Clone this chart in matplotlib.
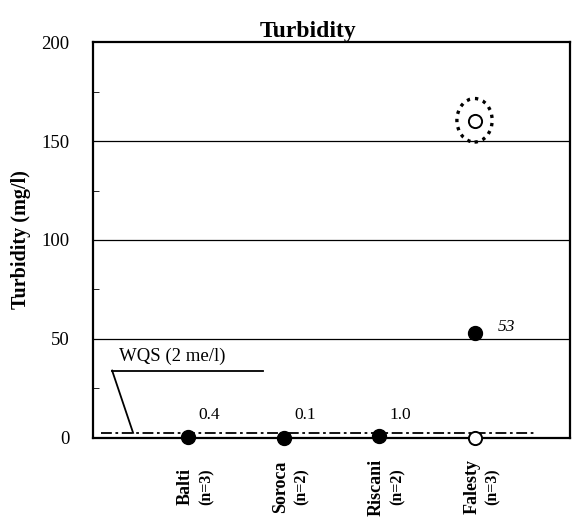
import matplotlib
matplotlib.use("Agg")
import matplotlib.pyplot as plt
from matplotlib.patches import Ellipse
from matplotlib.transforms import blended_transform_factory

plt.rcParams['font.family'] = ['Liberation Serif', 'DejaVu Serif']

# data
sites = ["Balti", "Soroca", "Riscani", "Falesty"]
n_samples = [3, 2, 2, 3]
filled_x = [1, 2, 3, 4]
filled_y = [0.4, 0.1, 1.0, 53]
filled_labels = ["0.4", "0.1", "1.0", "53"]
open_x = [4, 4]
open_y = [0, 160]
wqs = 2

fig = plt.figure(figsize=(5.78, 5.2), dpi=100)
ax = fig.add_axes([0.161, 0.158, 0.825, 0.761])

ax.set_xlim(0, 5)
ax.set_ylim(0, 200)
ax.set_yticks([0, 50, 100, 150, 200])
ax.set_yticks([25, 75, 125, 175], minor=True)
for y in [50, 100, 150]:
    ax.axhline(y, color="black", lw=0.9, zorder=1)

# WQS line
ax.plot([0.08, 4.65], [wqs + 0.5, wqs + 0.5], color="black", lw=1.3,
        linestyle=(0, (6, 2, 1.5, 2)), zorder=2)

ax.scatter(filled_x, filled_y, s=100, color="black", zorder=4, clip_on=False)
ax.scatter(open_x, open_y, s=90, facecolor="white", edgecolor="black",
           lw=1.4, zorder=4, clip_on=False)
ax.add_patch(Ellipse((4, 160.5), 0.37, 22, fill=False, lw=2.4,
                     linestyle=(0, (1, 1.5)), zorder=3))

for x, y, t in zip(filled_x, filled_y, filled_labels):
    if y > 10:
        ax.text(x + 0.24, y - 1, t, fontsize=12.5, style="italic",
                ha="left", va="bottom")
    else:
        ax.text(x + 0.22, 7.5, t, fontsize=12.5, ha="center", va="bottom")

# WQS annotation with leader line
ax.plot([0.2, 1.78], [34, 34], color="black", lw=1.3)
ax.plot([0.2, 0.42], [34, 2.5], color="black", lw=1.3)
ax.text(0.27, 37, "WQS (2 me/l)", fontsize=13.5, ha="left", va="bottom")

# category labels, rotated, name and sample count side by side
ax.set_xticks(filled_x)
ax.set_xticklabels([])
ax.tick_params(axis="x", length=0)
trans = blended_transform_factory(ax.transData, ax.transAxes)
for x, s, n in zip(filled_x, sites, n_samples):
    ax.text(x - 0.03, -0.124, s, transform=trans, rotation=90,
            fontsize=13, fontweight="bold", ha="center", va="center")
    ax.text(x + 0.19, -0.124, f"(n={n})", transform=trans, rotation=90,
            fontsize=11.5, fontweight="bold", ha="center", va="center")

ax.tick_params(axis="y", which="major", direction="in", length=0,
               labelsize=13.5, pad=17)
ax.tick_params(axis="y", which="minor", direction="in", length=4)

for sp in ax.spines.values():
    sp.set_linewidth(1.6)

ax.set_ylabel("Turbidity (mg/l)", fontsize=14.5, fontweight="bold")
ax.yaxis.set_label_coords(-0.13, 0.5)
ax.set_title("Turbidity", fontsize=17, fontweight="bold", x=0.45, pad=1)

fig.savefig("out.png", dpi=100)
